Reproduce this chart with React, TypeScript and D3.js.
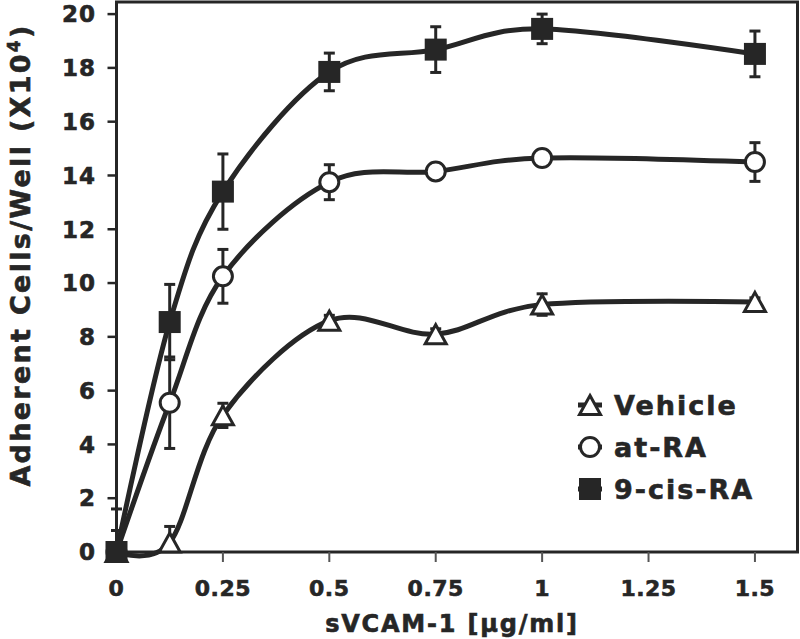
import React from "react";
import * as d3 from "d3";

const doses = [0, 0.125, 0.25, 0.5, 0.75, 1, 1.5];
const vehicle = [0, 0.35, 5.08, 8.6, 8.1, 9.2, 9.3];
const vehicleErr = [0, 0.6, 0.45, 0.2, 0.2, 0.4, 0.15];
const atRA = [0, 5.55, 10.25, 13.75, 14.15, 14.65, 14.5];
const atRAErr = [0.8, 1.7, 1.0, 0.65, 0.3, 0.2, 0.72];
const cisRA = [0, 8.55, 13.4, 17.85, 18.68, 19.45, 18.52];
const cisRAErr = [1.6, 1.4, 1.4, 0.7, 0.85, 0.55, 0.85];
const xTicks = [0, 0.25, 0.5, 0.75, 1, 1.25, 1.5];
const yTicks = [0, 2, 4, 6, 8, 10, 12, 14, 16, 18, 20];
const seriesNames = ["Vehicle", "at-RA", "9-cis-RA"];

const INK = "#262626";
const FONT = "'DejaVu Sans', Verdana, sans-serif";
const TEXT_STROKE = { stroke: INK, strokeWidth: 0.6 };

type Shape = "triangle" | "circle" | "square";

function Marker({ shape, x, y }: { shape: Shape; x: number; y: number }) {
  if (shape === "square") {
    return <rect x={x - 11} y={y - 11} width={22} height={22} fill={INK} />;
  }
  if (shape === "circle") {
    return <circle cx={x} cy={y} r={9.5} fill="#fff" stroke={INK} strokeWidth={3} />;
  }
  const h = 19;
  const w = 21;
  return (
    <path
      d={`M${x},${y - h / 2} L${x + w / 2},${y + h / 2} L${x - w / 2},${y + h / 2} Z`}
      fill="#fff"
      stroke={INK}
      strokeWidth={3}
      strokeLinejoin="miter"
    />
  );
}

export default function App() {
  const W = 800;
  const H = 639;
  const x = d3.scaleLinear().domain([0, 1.6]).range([116.5, 797.5]);
  const y = d3.scaleLinear().domain([0, 20.45]).range([552, 2]);

  const series = [
    { name: seriesNames[0], vals: vehicle, err: vehicleErr, shape: "triangle" as Shape },
    { name: seriesNames[1], vals: atRA, err: atRAErr, shape: "circle" as Shape },
    { name: seriesNames[2], vals: cisRA, err: cisRAErr, shape: "square" as Shape },
  ];

  const line = d3
    .line<number>()
    .x((_, i) => x(doses[i]))
    .y((d) => y(d))
    .curve(d3.curveCardinal.tension(0));

  return (
    <div style={{ position: "absolute", left: 0, top: 0 }}>
      <svg width={W} height={H} style={{ display: "block", background: "#fff" }}>
        {/* frame */}
        <rect
          x={x(0)}
          y={y(20.45)}
          width={x(1.6) - x(0)}
          height={y(0) - y(20.45)}
          fill="none"
          stroke={INK}
          strokeWidth={3}
        />
        {/* y ticks */}
        {yTicks.map((t) => (
          <g key={"y" + t}>
            <line x1={x(0) - 9} x2={x(0)} y1={y(t)} y2={y(t)} stroke={INK} strokeWidth={2.5} />
            <text
              x={96}
              y={y(t)}
              dy="0.36em"
              textAnchor="end"
              fontFamily={FONT}
              fontWeight="bold"
              fontSize={23}
              letterSpacing={1}
              fill={INK}
              {...TEXT_STROKE}
            >
              {t}
            </text>
          </g>
        ))}
        {/* x ticks */}
        {xTicks.map((t) => (
          <g key={"x" + t}>
            <line x1={x(t)} x2={x(t)} y1={y(0)} y2={y(0) + 10} stroke="#555" strokeWidth={2} />
            <text
              x={x(t)}
              y={596}
              textAnchor="middle"
              fontFamily={FONT}
              fontWeight="bold"
              fontSize={22}
              letterSpacing={0.5}
              fill={INK}
              {...TEXT_STROKE}
            >
              {t}
            </text>
          </g>
        ))}
        {/* axis titles */}
        <text
          x={452}
          y={632}
          textAnchor="middle"
          fontFamily={FONT}
          fontWeight="bold"
          fontSize={24}
          letterSpacing={1.8}
          fill={INK}
          {...TEXT_STROKE}
        >
          sVCAM-1 [μg/ml]
        </text>
        <text
          transform={`translate(30, 255) rotate(-90)`}
          textAnchor="middle"
          fontFamily={FONT}
          fontWeight="bold"
          fontSize={27}
          letterSpacing={2.3}
          fill={INK}
          {...TEXT_STROKE}
        >
          Adherent Cells/Well (X10
          <tspan dy={-10} fontSize={17}>
            4
          </tspan>
          <tspan dy={10}>)</tspan>
        </text>
        {/* lines */}
        {series.map((s) => (
          <path
            key={"l" + s.name}
            d={line(s.vals) || ""}
            fill="none"
            stroke={INK}
            strokeWidth={5}
          />
        ))}
        {/* error bars */}
        {series.map((s) =>
          s.vals.map((v, i) => {
            if (!s.err[i]) return null;
            const cx = x(doses[i]);
            const top = y(v + s.err[i]);
            const bot = y(Math.max(0, v - s.err[i]));
            return (
              <g key={"e" + s.name + i} stroke={INK} strokeWidth={3}>
                <line x1={cx} x2={cx} y1={top} y2={bot} />
                <line x1={cx - 5.5} x2={cx + 5.5} y1={top} y2={top} />
                {v - s.err[i] > 0 && <line x1={cx - 5.5} x2={cx + 5.5} y1={bot} y2={bot} />}
              </g>
            );
          })
        )}
        {/* markers */}
        {series.map((s) =>
          s.vals.map((v, i) => (
            <Marker key={"m" + s.name + i} shape={s.shape} x={x(doses[i])} y={y(v)} />
          ))
        )}
        {/* legend */}
        {series.map((s, i) => {
          const ly = 405 + i * 42;
          return (
            <g key={"lg" + s.name}>
              <line x1={578} x2={602} y1={ly} y2={ly} stroke={INK} strokeWidth={5} />
              <Marker shape={s.shape} x={590} y={ly} />
              <text
                x={614}
                y={ly}
                dy="0.36em"
                fontFamily={FONT}
                fontWeight="bold"
                fontSize={27}
                letterSpacing={2}
                fill={INK}
                {...TEXT_STROKE}
              >
                {s.name}
              </text>
            </g>
          );
        })}
      </svg>
    </div>
  );
}
